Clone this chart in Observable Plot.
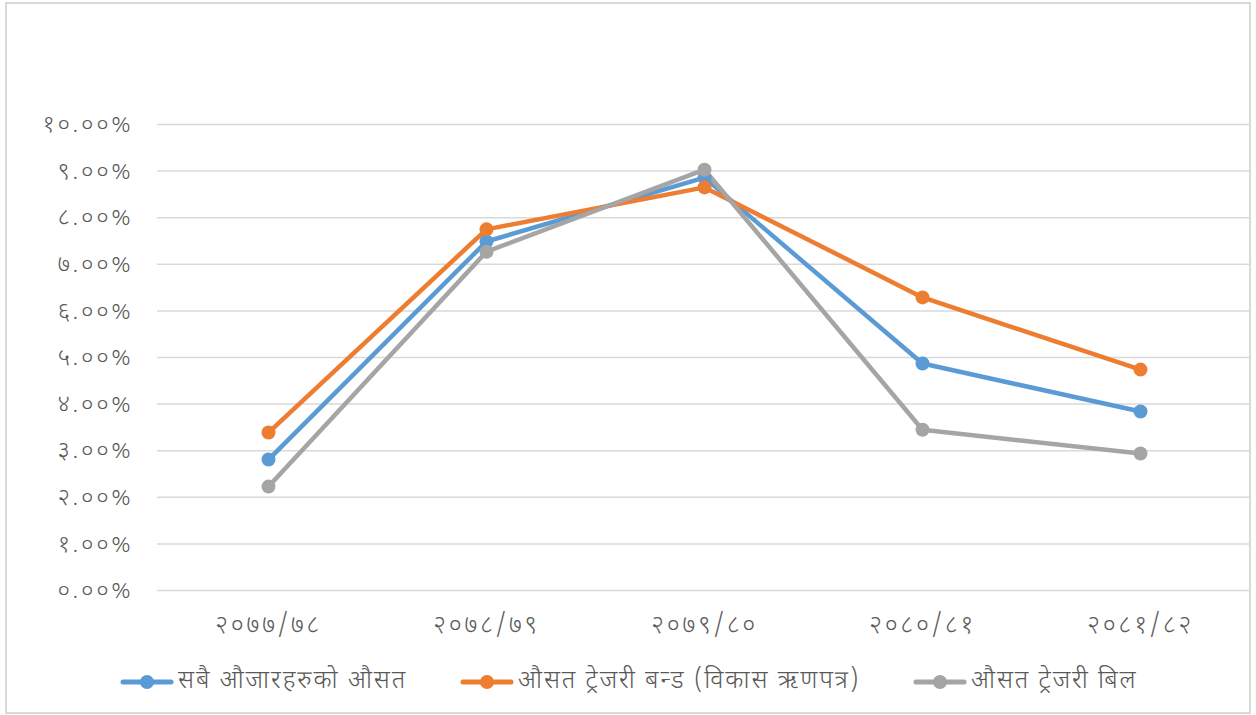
<!DOCTYPE html>
<html>
<head>
<meta charset="utf-8">
<script src="https://cdn.jsdelivr.net/npm/d3@7"></script>
<script src="https://cdn.jsdelivr.net/npm/@observablehq/plot@0.6"></script>
<style>
  html, body { margin: 0; padding: 0; background: #fff; width: 1256px; height: 715px; overflow: hidden; }
  body { position: relative; font-family: "Noto Sans Devanagari", "Lohit Devanagari", "Mangal", "Noto Sans", sans-serif; color: #595959; }
  #frame { position: absolute; left: 5px; top: 2px; width: 1242px; height: 708px; border: 2px solid #d9d9d9; }
  #chart { position: absolute; left: 0; top: 0; }
  #legend { position: absolute; top: 662px; left: 0; width: 1256px; height: 40px; font-size: 25px; letter-spacing: 1.9px; font-weight: 300; }
  .item { position: absolute; top: 0; display: flex; align-items: center; height: 40px; white-space: nowrap; }
  .item svg { margin-right: 4px; }
  #chart svg text { font-weight: 300; }
</style>
</head>
<body>
<div id="frame"></div>
<div id="chart"></div>
<div id="legend"></div>
<script>
const categories = ["२०७७/७८", "२०७८/७९", "२०७९/८०", "२०८०/८१", "२०८१/८२"];
const seriesNames = ["सबै औजारहरुको औसत", "औसत ट्रेजरी बन्ड (विकास ऋणपत्र)", "औसत ट्रेजरी बिल"];
const seriesColors = ["#5B9BD5", "#ED7D31", "#A5A5A5"];
const allInstruments = [2.81, 7.49, 8.86, 4.87, 3.84];
const treasuryBond = [3.39, 7.75, 8.65, 6.29, 4.74];
const treasuryBill = [2.23, 7.27, 9.03, 3.45, 2.94];
const yTicks = [0, 1, 2, 3, 4, 5, 6, 7, 8, 9, 10];
const yTickLabels = ["०.००%", "१.००%", "२.००%", "३.००%", "४.००%", "५.००%", "६.००%", "७.००%", "८.००%", "९.००%", "१०.००%"];

const seriesValues = [allInstruments, treasuryBond, treasuryBill];
const data = [];
seriesValues.forEach((vals, s) => vals.forEach((v, i) => data.push({series: seriesNames[s], cat: categories[i], value: v})));

const plot = Plot.plot({
  width: 1256,
  height: 650,
  marginLeft: 157,
  marginRight: 6,
  marginTop: 124,
  marginBottom: 60,
  style: { fontFamily: "'Noto Sans Devanagari', 'Lohit Devanagari', Mangal, 'Noto Sans', sans-serif", fontSize: "24px", color: "#595959", background: "transparent", letterSpacing: "2.7px" },
  x: { type: "band", domain: categories, padding: 0, label: null },
  y: { domain: [0, 10], label: null },
  color: { domain: seriesNames, range: seriesColors },
  marks: [
    Plot.ruleY(yTicks, { stroke: "#d9d9d9", strokeWidth: 1.5 }),
    Plot.axisY({ ticks: yTicks, tickFormat: (d) => yTickLabels[yTicks.indexOf(d)], tickSize: 0, tickPadding: 24, fontSize: 24, label: null }),
    Plot.axisX({ tickSize: 0, tickPadding: 25, fontSize: 25, label: null }),
    Plot.line(data, { x: "cat", y: "value", z: "series", stroke: "series", strokeWidth: 4.5, strokeLinejoin: "round", strokeLinecap: "round" }),
    Plot.dot(data, { x: "cat", y: "value", fill: "series", r: 7, stroke: null })
  ]
});
document.getElementById("chart").appendChild(plot);

const legend = document.getElementById("legend");
const legendX = [120, 460, 913];
seriesNames.forEach((name, i) => {
  const item = document.createElement("div");
  item.className = "item";
  item.style.left = legendX[i] + "px";
  item.innerHTML = `<svg width="54" height="14"><line x1="3" y1="7" x2="51" y2="7" stroke="${seriesColors[i]}" stroke-width="5" stroke-linecap="round"/><circle cx="27" cy="7" r="7" fill="${seriesColors[i]}"/></svg><span>${name}</span>`;
  legend.appendChild(item);
});
</script>
</body>
</html>
